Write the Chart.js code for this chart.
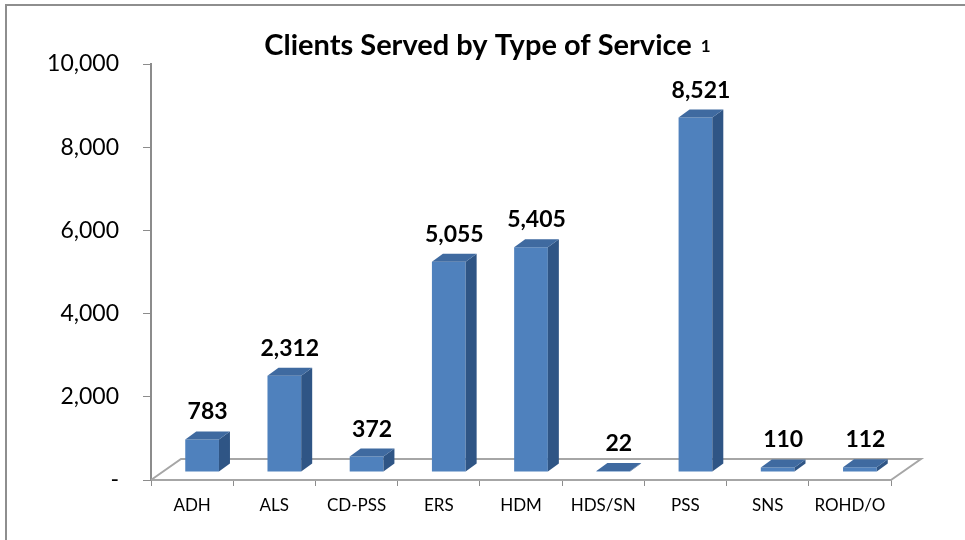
<!DOCTYPE html>
<html>
<head>
<meta charset="utf-8">
<script src="https://cdn.jsdelivr.net/npm/chart.js@4.4.1/dist/chart.umd.min.js"></script>
<style>
  html, body { margin: 0; padding: 0; background: #fff; }
  body { width: 965px; height: 540px; overflow: hidden; position: relative; }
  #frame { position: absolute; left: 5px; top: 4px; width: 1000px; height: 600px;
           border-left: 2px solid #8e8e8e; border-top: 2px solid #8e8e8e; }
  #chart { position: absolute; left: 0; top: 0; }
</style>
</head>
<body>
<div id="frame"></div>
<canvas id="chart" width="965" height="540"></canvas>
<script>
const services = ['ADH', 'ALS', 'CD-PSS', 'ERS', 'HDM', 'HDS/SN', 'PSS', 'SNS', 'ROHD/O'];
const clients = [783, 2312, 372, 5055, 5405, 22, 8521, 110, 112];
const yMax = 10000;
const yStep = 2000;
const chartTitle = 'Clients Served by Type of Service';
const titleNote = '1';

const FONT = 'Lato, "Open Sans", sans-serif';
const fmt = v => v.toLocaleString('en-US');

// fake 3D: bars sit partway back on the floor and have some depth
const SHIFT = { x: 10, y: -8 };
const DEPTH = { x: 11, y: -8 };
const FLOOR = { x: 30, y: -21 };

function poly(ctx, pts) {
  ctx.beginPath();
  ctx.moveTo(pts[0][0], pts[0][1]);
  pts.slice(1).forEach(p => ctx.lineTo(p[0], p[1]));
  ctx.closePath();
  ctx.fill();
}

const threeD = {
  id: 'threeD',
  beforeDatasetsDraw(chart) {
    const { ctx, chartArea: a } = chart;
    ctx.save();
    ctx.beginPath();
    ctx.moveTo(a.left, a.bottom);
    ctx.lineTo(a.left + FLOOR.x, a.bottom + FLOOR.y);
    ctx.lineTo(a.right + FLOOR.x, a.bottom + FLOOR.y);
    ctx.lineTo(a.right, a.bottom);
    ctx.strokeStyle = '#a6a6a6';
    ctx.lineWidth = 2;
    ctx.stroke();
    ctx.restore();

    ctx.save();
    ctx.translate(SHIFT.x, SHIFT.y);
  },
  afterDatasetsDraw(chart) {
    const ctx = chart.ctx;
    chart.getDatasetMeta(0).data.forEach(bar => {
      const { x, y, base, width } = bar.getProps(['x', 'y', 'base', 'width'], true);
      const l = x - width / 2, r = x + width / 2;
      ctx.fillStyle = '#2f5585';
      poly(ctx, [[r, y], [r + DEPTH.x, y + DEPTH.y], [r + DEPTH.x, base + DEPTH.y], [r, base]]);
      ctx.fillStyle = '#3f6aa0';
      poly(ctx, [[l, y], [r, y], [r + DEPTH.x, y + DEPTH.y], [l + DEPTH.x, y + DEPTH.y]]);
    });
    ctx.restore();

    // value labels
    ctx.save();
    ctx.font = 'bold 23px ' + FONT;
    ctx.fillStyle = '#000';
    ctx.textAlign = 'center';
    ctx.textBaseline = 'alphabetic';
    chart.getDatasetMeta(0).data.forEach((bar, i) => {
      const { x, y } = bar.getProps(['x', 'y'], true);
      ctx.fillText(fmt(clients[i]), x + SHIFT.x + DEPTH.x / 2, y + SHIFT.y + DEPTH.y - 12);
    });
    ctx.restore();
  },
  afterDraw(chart) {
    const ctx = chart.ctx;
    ctx.save();
    ctx.fillStyle = '#000';
    ctx.textBaseline = 'alphabetic';
    ctx.font = 'bold 29px ' + FONT;
    ctx.textAlign = 'center';
    ctx.fillText(chartTitle, 478, 55);
    const w = ctx.measureText(chartTitle).width;
    ctx.font = 'bold 17px ' + FONT;
    ctx.textAlign = 'left';
    ctx.fillText(titleNote, 478 + w / 2 + 9, 52);
    ctx.restore();
  }
};

new Chart(document.getElementById('chart'), {
  type: 'bar',
  data: {
    labels: services,
    datasets: [{
      data: clients,
      backgroundColor: '#4f81bd',
      borderWidth: 0,
      categoryPercentage: 1,
      barPercentage: 0.41
    }]
  },
  options: {
    responsive: false,
    animation: false,
    layout: { padding: { top: 64, right: 74, bottom: 0, left: 0 } },
    plugins: {
      legend: { display: false },
      title: { display: false },
      tooltip: { enabled: false }
    },
    scales: {
      x: {
        grid: { drawOnChartArea: false, color: '#8c8c8c', tickLength: 6 },
        border: { color: '#a6a6a6', width: 2 },
        ticks: { font: { family: FONT, size: 17 }, color: '#000', padding: 9 },
        afterFit: s => { s.height = 60; }
      },
      y: {
        min: 0,
        max: yMax,
        ticks: {
          stepSize: yStep,
          callback: v => v === 0 ? '-' : fmt(v),
          font: { family: FONT, size: 23 },
          color: '#000',
          padding: 24
        },
        grid: { drawOnChartArea: false, color: '#8c8c8c', tickLength: 8 },
        border: { color: '#8c8c8c', width: 2 },
        afterFit: s => { s.width = 151; }
      }
    }
  },
  plugins: [threeD]
});
</script>
</body>
</html>
